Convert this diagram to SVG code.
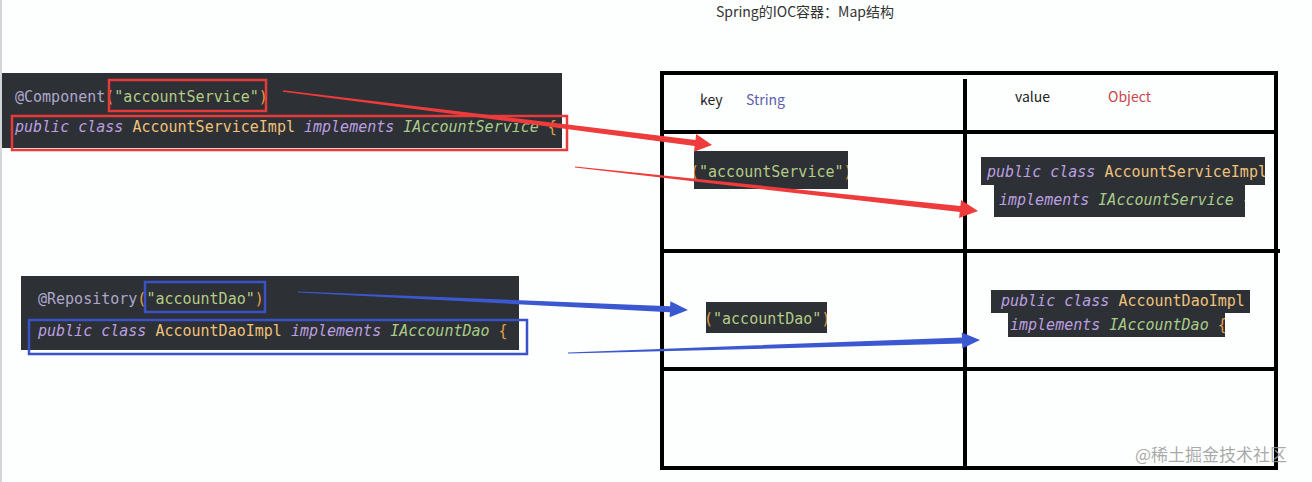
<svg xmlns="http://www.w3.org/2000/svg" width="1312" height="482" viewBox="0 0 1312 482">
<style>
.code{font-family:"DejaVu Sans Mono","Liberation Mono",monospace;font-size:15px}
.ann{fill:#aea7cc}
.par{fill:#e0a24a}
.str{fill:#b4cc86}
.kw{fill:#bb9fe0;font-style:italic}
.cls{fill:#efc27c}
.itf{fill:#a9cc8a;font-style:italic}
.dark{fill:#2d3034}
.hdr{font-family:"Noto Sans CJK SC","Noto Sans",sans-serif;font-size:14px}
.grid{stroke:#000;stroke-width:4;fill:none}
.redbox{fill:none;stroke:#e8393b;stroke-width:2.5}
.bluebox{fill:none;stroke:#3a52c8;stroke-width:2.5}
</style>
<defs>
<clipPath id="c1"><rect x="694" y="151" width="154" height="38"/></clipPath>
<clipPath id="c2"><rect x="706" y="302" width="121" height="31"/></clipPath>
<clipPath id="c3"><rect x="981" y="157" width="284" height="28"/></clipPath>
<clipPath id="c4"><rect x="994" y="185" width="251" height="32"/></clipPath>
<clipPath id="c5"><rect x="991" y="290" width="259" height="23"/></clipPath>
<clipPath id="c6"><rect x="1008" y="312" width="217" height="25"/></clipPath>
</defs>
<rect width="1312" height="482" fill="#fdfefe"/>
<line x1="1" y1="0" x2="1" y2="482" stroke="#d3d7db" stroke-width="2"/>

<g id="title">
<text x="805" y="17" text-anchor="middle" font-family="'Noto Sans CJK SC','Noto Sans',sans-serif" font-size="14" fill="#333">Spring的IOC容器：Map结构</text>
</g>

<g id="code-component">
<rect class="dark" x="2" y="73" width="560" height="75"/>
<text class="code" x="15" y="102"><tspan class="ann">@Component</tspan><tspan class="par">(</tspan><tspan class="str">"accountService"</tspan><tspan class="par">)</tspan></text>
<text class="code" x="15" y="132"><tspan class="kw">public class </tspan><tspan class="cls">AccountServiceImpl </tspan><tspan class="kw">implements </tspan><tspan class="itf">IAccountService </tspan><tspan class="par">{</tspan></text>
<rect class="redbox" x="109" y="80" width="157" height="31"/>
<rect class="redbox" x="12" y="116" width="555" height="34"/>
</g>

<g id="code-repository">
<rect class="dark" x="21" y="276" width="498" height="74"/>
<text class="code" x="38" y="304"><tspan class="ann">@Repository</tspan><tspan class="par">(</tspan><tspan class="str">"accountDao"</tspan><tspan class="par">)</tspan></text>
<text class="code" x="38" y="336"><tspan class="kw">public class </tspan><tspan class="cls">AccountDaoImpl </tspan><tspan class="kw">implements </tspan><tspan class="itf">IAccountDao </tspan><tspan class="par">{</tspan></text>
<rect class="bluebox" x="145" y="282" width="120" height="30"/>
<rect class="bluebox" x="29" y="320" width="498" height="34"/>
</g>

<g id="map-table">
<rect class="grid" x="662" y="73" width="614" height="395"/>
<line class="grid" x1="662" y1="132" x2="1276" y2="132"/>
<line class="grid" x1="662" y1="251" x2="1280" y2="251"/>
<line class="grid" x1="662" y1="369" x2="1276" y2="369"/>
<line class="grid" x1="965" y1="79" x2="965" y2="468"/>
<text class="hdr" x="700" y="105" fill="#222">key</text>
<text class="hdr" x="746" y="105" fill="#5a5fb0">String</text>
<text class="hdr" x="1015" y="102" fill="#222">value</text>
<text class="hdr" x="1108" y="102" fill="#c8474a">Object</text>
</g>

<g id="key-accountService">
<rect class="dark" x="694" y="151" width="154" height="38"/>
<text class="code" x="690" y="177" clip-path="url(#c1)"><tspan class="par">(</tspan><tspan class="str">"accountService"</tspan><tspan class="par">)</tspan></text>
</g>

<g id="value-accountService">
<rect class="dark" x="981" y="157" width="284" height="28"/>
<rect class="dark" x="994" y="185" width="251" height="32"/>
<text class="code" x="987" y="177" clip-path="url(#c3)"><tspan class="kw">public class </tspan><tspan class="cls">AccountServiceImpl</tspan></text>
<text class="code" x="999" y="205" clip-path="url(#c4)"><tspan class="kw">implements </tspan><tspan class="itf">IAccountService </tspan><tspan class="par">{</tspan></text>
</g>

<g id="key-accountDao">
<rect class="dark" x="706" y="302" width="121" height="31"/>
<text class="code" x="704" y="324" clip-path="url(#c2)"><tspan class="par">(</tspan><tspan class="str">"accountDao"</tspan><tspan class="par">)</tspan></text>
</g>

<g id="value-accountDao">
<rect class="dark" x="991" y="290" width="259" height="23"/>
<rect class="dark" x="1008" y="312" width="217" height="25"/>
<text class="code" x="1001" y="306" clip-path="url(#c5)"><tspan class="kw">public class </tspan><tspan class="cls">AccountDaoImpl</tspan></text>
<text class="code" x="1010" y="330" clip-path="url(#c6)"><tspan class="kw">implements </tspan><tspan class="itf">IAccountDao </tspan><tspan class="par">{</tspan></text>
</g>

<g id="connectors">
<polygon fill="#ee3b3b" points="283.1,90.3 695.5,139.9 696.2,134.0 712,145 694.0,151.8 694.7,145.9 282.9,91.7"/>
<polygon fill="#ee3b3b" points="575.1,166.4 960.4,206.1 961.1,200.1 978,211 959.1,218.0 959.8,212.0 574.9,167.6"/>
<polygon fill="#3b58d0" points="298.0,291.4 670.1,306.2 670.4,301.2 688,310 669.6,317.2 669.9,312.2 298.0,292.6"/>
<polygon fill="#3b58d0" points="568.0,352.4 961.9,337.6 961.8,332.6 980,340 962.3,348.6 962.1,343.6 568.0,353.6"/>
</g>

<g id="watermark">
<text x="1135" y="461" font-family="'Noto Sans CJK SC',sans-serif" font-size="17" fill="#9a9a9a" fill-opacity="0.85">@稀土掘金技术社区</text>
</g>
</svg>
